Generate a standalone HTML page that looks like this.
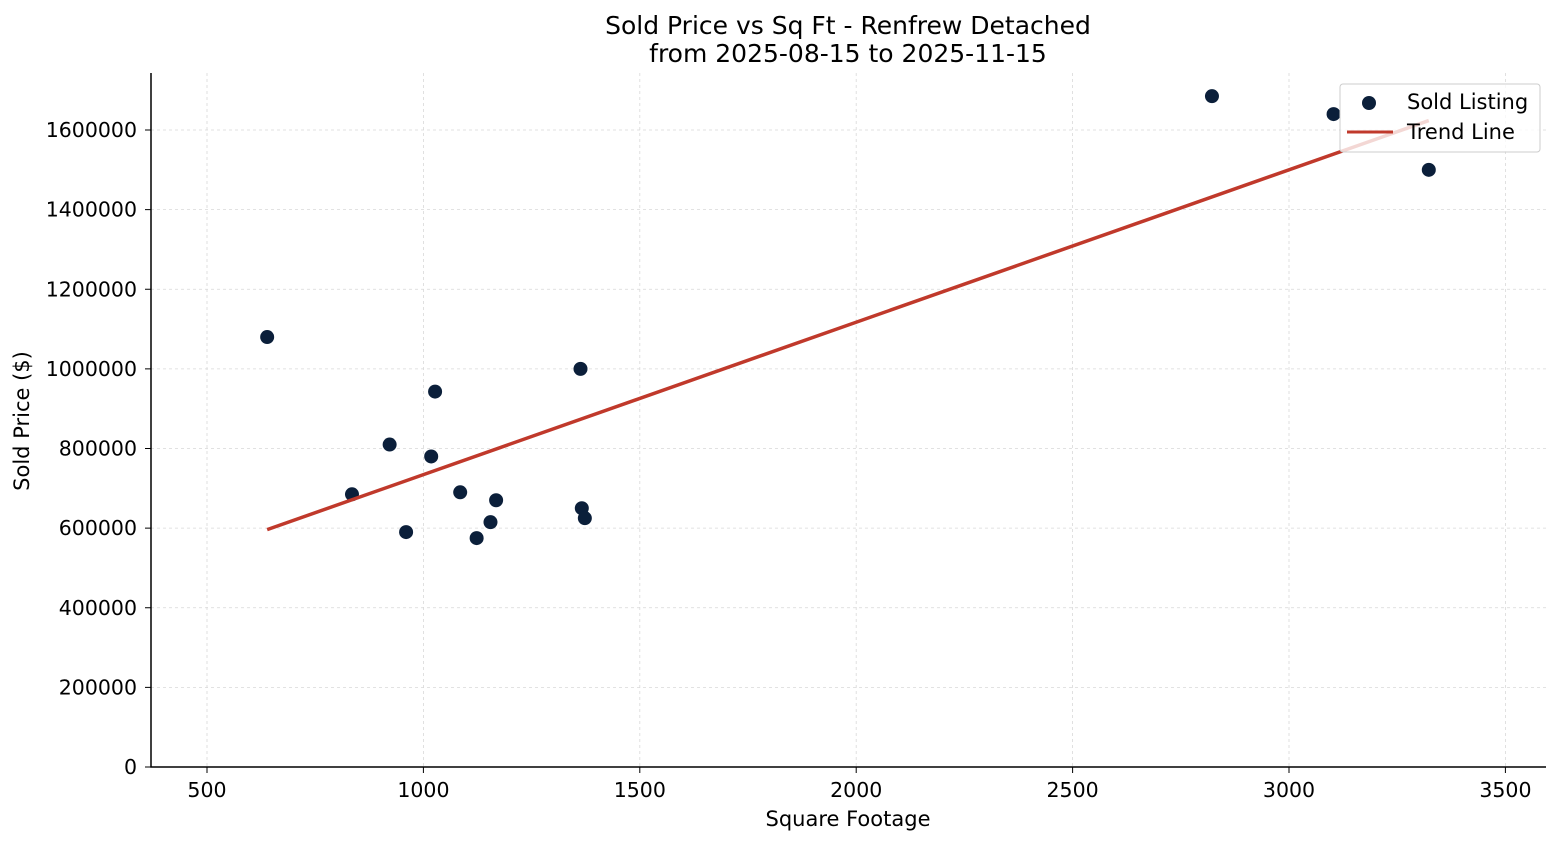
<!DOCTYPE html>
<html><head><meta charset="utf-8"><style>
body{margin:0;background:#fff;font-family:"Liberation Sans","DejaVu Sans",sans-serif}
svg text{font-family:"DejaVu Sans","Liberation Sans",sans-serif;fill:#000}
</style></head><body>
<svg id="chart" width="1560" height="845" xmlns="http://www.w3.org/2000/svg">
<rect width="1560" height="845" fill="#fff"/>
<g id="grid"></g><g id="axes"></g><g id="marks"></g>
<text x="848" y="34" font-size="25" text-anchor="middle">Sold Price vs Sq Ft - Renfrew Detached</text>
<text x="848" y="62" font-size="25" text-anchor="middle">from 2025-08-15 to 2025-11-15</text>
<text x="848" y="826" font-size="21" text-anchor="middle">Square Footage</text>
<text x="29" y="421" font-size="21" text-anchor="middle" transform="rotate(-90 29 421)">Sold Price ($)</text>
<g>
<rect x="1340" y="84" width="200" height="68" rx="3" fill="#fff" fill-opacity="0.8" stroke="#ccc"/>
<circle cx="1369" cy="103" r="7" fill="#0b1f3a"/>
<text x="1407" y="109" font-size="21">Sold Listing</text>
<line x1="1347" y1="132" x2="1393" y2="132" stroke="#c0392b" stroke-width="3"/>
<text x="1407" y="139" font-size="21">Trend Line</text>
</g>
</svg>
<script>
const sqft=[639,835,922,960,1018,1027,1085,1123,1155,1168,1363,1366,1373,2822,3103,3323];
const price=[1080000,685000,810000,590000,780000,943000,690000,575000,615000,670000,1000000,650000,625000,1685000,1640000,1500000];
const xTicks=[500,1000,1500,2000,2500,3000,3500];
const yTicks=[0,200000,400000,600000,800000,1000000,1200000,1400000,1600000];
const NS="http://www.w3.org/2000/svg";
const L=151,R=1546,T=73,B=767;
const xs=v=>207+(v-500)*0.4328;
const ys=v=>767-v*637/1600000;
function mk(t,a,p){const e=document.createElementNS(NS,t);for(const k in a)e.setAttribute(k,a[k]);p.appendChild(e);return e;}
const grid=document.getElementById('grid'),axes=document.getElementById('axes'),marks=document.getElementById('marks');
xTicks.forEach(v=>{const x=xs(v);
const g=mk('line',{x1:x,x2:x,y1:T,y2:B,stroke:'#d8d8d8','stroke-dasharray':'3,3','stroke-width':0.8},grid);


mk('line',{x1:x,x2:x,y1:B,y2:B+6,stroke:'#000'},axes);
const t=mk('text',{x:x,y:B+30,'font-size':20.5,'text-anchor':'middle'},axes);t.textContent=v;

});
yTicks.forEach(v=>{const y=ys(v);
const g=mk('line',{x1:L,x2:R,y1:y,y2:y,stroke:'#d8d8d8','stroke-dasharray':'3,3','stroke-width':0.8},grid);


mk('line',{x1:L-6,x2:L,y1:y,y2:y,stroke:'#000'},axes);
const t=mk('text',{x:L-14,y:y+7,'font-size':20.5,'text-anchor':'end'},axes);t.textContent=v;

});
const ax=mk('path',{d:`M${L} ${T}V${B}H${R}`,fill:'none',stroke:'#000','stroke-width':1.5},axes);


const n=sqft.length,mx=sqft.reduce((a,b)=>a+b)/n,my=price.reduce((a,b)=>a+b)/n;
let sxy=0,sxx=0;for(let i=0;i<n;i++){sxy+=(sqft[i]-mx)*(price[i]-my);sxx+=(sqft[i]-mx)**2;}
const m=sxy/sxx,b=my-m*mx,x0=Math.min(...sqft),x1=Math.max(...sqft);
sqft.forEach((v,i)=>{const c=mk('circle',{cx:xs(v),cy:ys(price[i]),r:7,fill:'#0b1f3a'},marks);

});
const tl=mk('line',{x1:xs(x0),y1:ys(m*x0+b),x2:xs(x1),y2:ys(m*x1+b),stroke:'#c0392b','stroke-width':3.5},marks);


</script>
</body></html>
